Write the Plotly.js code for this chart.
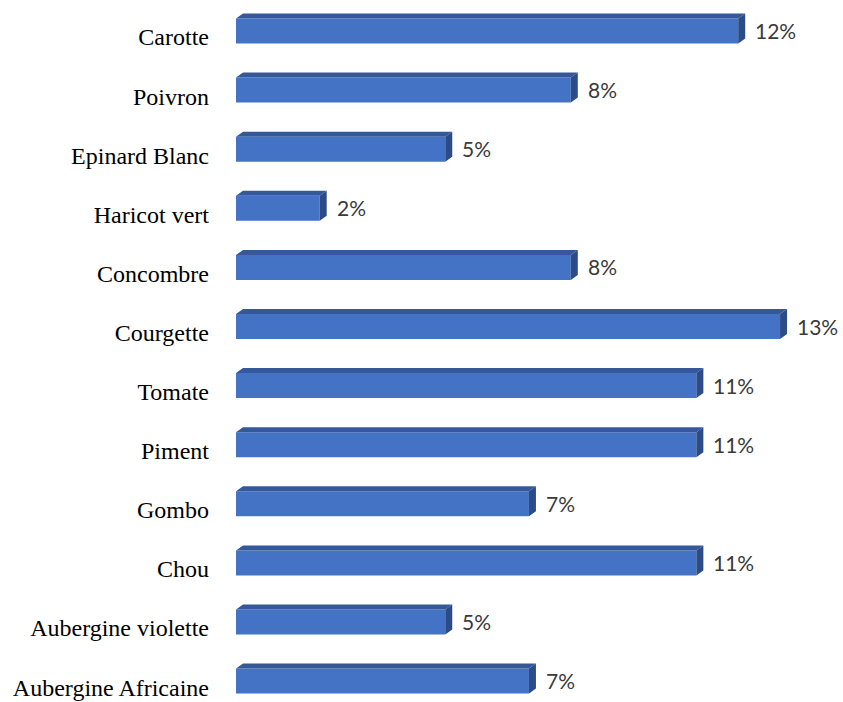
<!DOCTYPE html>
<html>
<head>
<meta charset="utf-8">
<script src="https://cdn.plot.ly/plotly-3.0.1.min.js"></script>
<style>html,body{margin:0;padding:0;background:#fff;}#chart{width:843px;height:702px;}</style>
</head>
<body>
<div id="chart"></div>
<script>
// Data (top to bottom)
const categories = ["Carotte","Poivron","Epinard Blanc","Haricot vert","Concombre","Courgette","Tomate","Piment","Gombo","Chou","Aubergine violette","Aubergine Africaine"];
const values = [12, 8, 5, 2, 8, 13, 11, 11, 7, 11, 5, 7];
const valueLabels = ["12%","8%","5%","2%","8%","13%","11%","11%","7%","11%","5%","7%"];

const positions = categories.map((c, i) => i);

// Styling / geometry (data units derived from pixel scale)
const W = 843, H = 702;
const marginL = 236;
const pxPerX = 41.85;
const pxPerY = 59.1;
const firstTickPx = 37;
const xMax = (W - marginL) / pxPerX;
const yTop = -firstTickPx / pxPerY;
const yBottom = (H - firstTickPx) / pxPerY;

const barW = 25 / pxPerY;
const barOffset = -(6 / pxPerY) - barW / 2;
const dx = 7 / pxPerX;
const dy = 5 / pxPerY;

const frontColor = "#4472C4";
const topColor = "#34589A";
const sideColor = "#2C4C88";

const shapes = [];
values.forEach((v, i) => {
  const top = positions[i] + barOffset;
  const bot = top + barW;
  shapes.push({
    type: "path", xref: "x", yref: "y", layer: "above",
    path: `M 0 ${top} L ${v} ${top} L ${v + dx} ${top - dy} L ${dx} ${top - dy} Z`,
    fillcolor: topColor, line: {width: 0}
  });
  shapes.push({
    type: "path", xref: "x", yref: "y", layer: "above",
    path: `M ${v} ${top} L ${v + dx} ${top - dy} L ${v + dx} ${bot - dy} L ${v} ${bot} Z`,
    fillcolor: sideColor, line: {width: 0}
  });
});

const annotations = values.map((v, i) => ({
  x: v, y: positions[i] - 0.11, xref: "x", yref: "y",
  text: valueLabels[i], showarrow: false,
  xanchor: "left", yanchor: "middle", xshift: 15,
  font: {family: "Lato, 'Open Sans', sans-serif", size: 21, color: "#3a3a3a"}
}));

const trace = {
  type: "bar",
  orientation: "h",
  x: values,
  y: positions,
  width: barW,
  offset: barOffset,
  marker: {color: frontColor, line: {width: 0}},
  hoverinfo: "skip"
};

const layout = {
  width: W, height: H,
  margin: {l: marginL, r: 0, t: 0, b: 0},
  paper_bgcolor: "#ffffff",
  plot_bgcolor: "#ffffff",
  showlegend: false,
  xaxis: {range: [0, xMax], showgrid: false, zeroline: false, showline: false, showticklabels: false, ticks: ""},
  yaxis: {
    range: [yBottom, yTop],
    tickmode: "array", tickvals: positions, ticktext: categories,
    showgrid: false, zeroline: false, showline: false, ticks: "",
    ticklabelstandoff: 26,
    tickfont: {family: "'Liberation Serif', 'Times New Roman', serif", size: 24, color: "#000000"}
  },
  shapes: shapes,
  annotations: annotations
};

Plotly.newPlot("chart", [trace], layout, {displayModeBar: false, staticPlot: true});
</script>
</body>
</html>
